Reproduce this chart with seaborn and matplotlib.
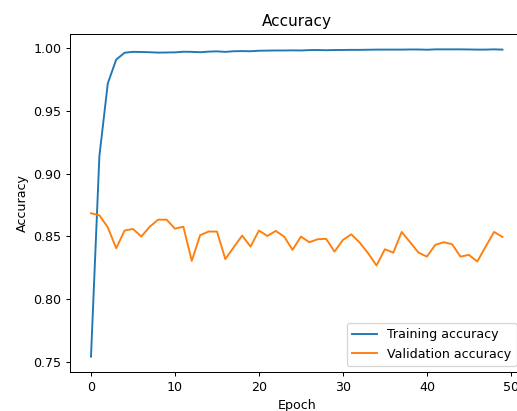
import matplotlib
matplotlib.use("Agg")
import matplotlib.pyplot as plt
import seaborn as sns
import pandas as pd

epochs = list(range(50))
train_acc = [0.754, 0.914, 0.972, 0.991, 0.9965, 0.9972, 0.9971, 0.9969, 0.9966, 0.9967,
             0.9968, 0.9973, 0.9972, 0.9969, 0.9974, 0.9976, 0.9972, 0.9977, 0.9978, 0.9977,
             0.9981, 0.9982, 0.9983, 0.9983, 0.9984, 0.9983, 0.9986, 0.9987, 0.9985, 0.9987,
             0.9987, 0.9988, 0.9988, 0.9989, 0.9990, 0.9990, 0.9990, 0.9990, 0.9991, 0.9991,
             0.9989, 0.9992, 0.9992, 0.9992, 0.9992, 0.9991, 0.9990, 0.9990, 0.9992, 0.9990]
val_acc = [0.8684, 0.8668, 0.8572, 0.8405, 0.8546, 0.8559, 0.8498, 0.8577, 0.8633, 0.8633,
           0.8561, 0.8577, 0.8304, 0.8509, 0.8538, 0.8538, 0.8318, 0.8413, 0.8506, 0.8418,
           0.8546, 0.8503, 0.8543, 0.8498, 0.8392, 0.8498, 0.8453, 0.8477, 0.8480, 0.8378,
           0.8471, 0.8516, 0.8450, 0.8365, 0.8267, 0.8397, 0.8370, 0.8535, 0.8453, 0.8370,
           0.8338, 0.8432, 0.8453, 0.8437, 0.8338, 0.8352, 0.8299, 0.8418, 0.8535, 0.8495]

df = pd.DataFrame({"Epoch": epochs, "train": train_acc, "val": val_acc})

DPI = 91.25
fig = plt.figure(figsize=(517 / DPI, 411 / DPI), dpi=DPI)
ax = fig.add_axes([0.1362, 0.0949, 0.8755, 0.8224])
sns.lineplot(data=df, x="Epoch", y="train", ax=ax, color="#1f77b4", label="Training accuracy")
sns.lineplot(data=df, x="Epoch", y="val", ax=ax, color="#ff7f0e", label="Validation accuracy")
ax.set_title("Accuracy")
ax.set_xlabel("Epoch")
ax.set_ylabel("Accuracy")
ax.legend(loc="lower right")
fig.savefig("out.png", dpi=DPI)
